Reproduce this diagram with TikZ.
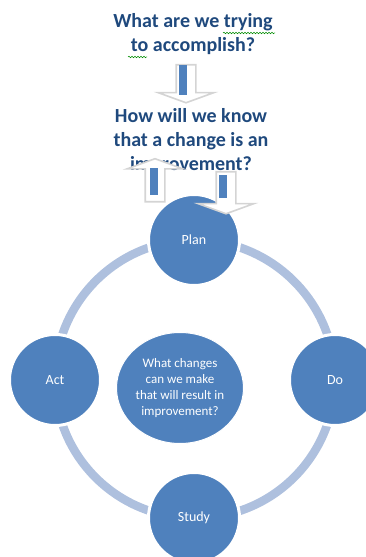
\documentclass[tikz,border=0pt]{standalone}
\usepackage{fontspec}
\setmainfont{Carlito}
\usetikzlibrary{shapes.geometric, shapes.arrows, positioning, backgrounds, decorations.pathmorphing}

\definecolor{pdsaBlue}{HTML}{4F81BD}
\definecolor{ringBlue}{HTML}{AEC0DE}
\definecolor{titleBlue}{HTML}{1F497D}

\begin{document}
\begin{tikzpicture}[
    x=1pt, y=1pt,
    phase/.style={circle, draw=white, line width=3pt, fill=pdsaBlue, text=white, minimum size=91pt, inner sep=0pt, font=\fontsize{14}{16}\selectfont},
    goal/.style={ellipse, draw=white, line width=1pt, fill=pdsaBlue, text=white, minimum width=127pt, minimum height=111pt, align=center, inner sep=0pt, font=\fontsize{13}{16}\selectfont},
    question/.style={text=titleBlue, align=center, font=\fontsize{20}{24}\selectfont\bfseries},
    flowarrow/.style={single arrow, draw=black!17, line width=1.6pt, fill=white, inner sep=9pt, single arrow head extend=18pt, single arrow tip angle=140},
    flowbar/.style={rectangle, fill=pdsaBlue, minimum width=8pt, inner sep=0pt},
    ring/.style={draw=ringBlue, line width=8.5pt},
    squiggle/.style={draw=green!55!black, line width=0.5pt, decorate, decoration={snake, amplitude=0.8pt, segment length=3pt}}
]
    \useasboundingbox (0,0) rectangle (366,557);

    % Questions
    \node (aim) [question] at (193,523) {What are we trying\\to accomplish?};
    \node (measure) [question] at (191,416) {How will we know\\that a change is an\\improvement?};

    % Spell-check marks
    \draw [squiggle] (223,524) -- (275,524);
    \draw [squiggle] (128,500) -- (147,500);

    % Cycle
    \node (plan) [phase] at (194,317) {Plan};
    \node (do) [phase] at (335,177) {Do};
    \node (study) [phase] at (194,39) {Study};
    \node (act) [phase] at (55,177) {Act};
    \node (change) [goal] at (180,169) {What changes\\can we make\\that will result in\\improvement?};

    % Ring behind the phases
    \begin{scope}[on background layer]
        \draw [ring] (plan.center) to[bend left=45] (do.center) to[bend left=45] (study.center)
            to[bend left=45] (act.center) to[bend left=45] (plan.center);
    \end{scope}

    % Arrows between the questions and the cycle
    \node (down1) [flowarrow, rotate=-90, minimum height=38pt] at (186,475) {};
    \node (bar1) [flowbar, minimum height=30pt] at (182.5,477) {};

    \node (up2) [flowarrow, rotate=90, minimum height=43pt] at (155,375) {};
    \node (bar2) [flowbar, minimum height=27pt] at (153.5,375.5) {};

    \node (down3) [flowarrow, rotate=-90, minimum height=42pt] at (226,366) {};
    \node (bar3) [flowbar, minimum height=23pt] at (223,370.5) {};

\end{tikzpicture}
\end{document}
